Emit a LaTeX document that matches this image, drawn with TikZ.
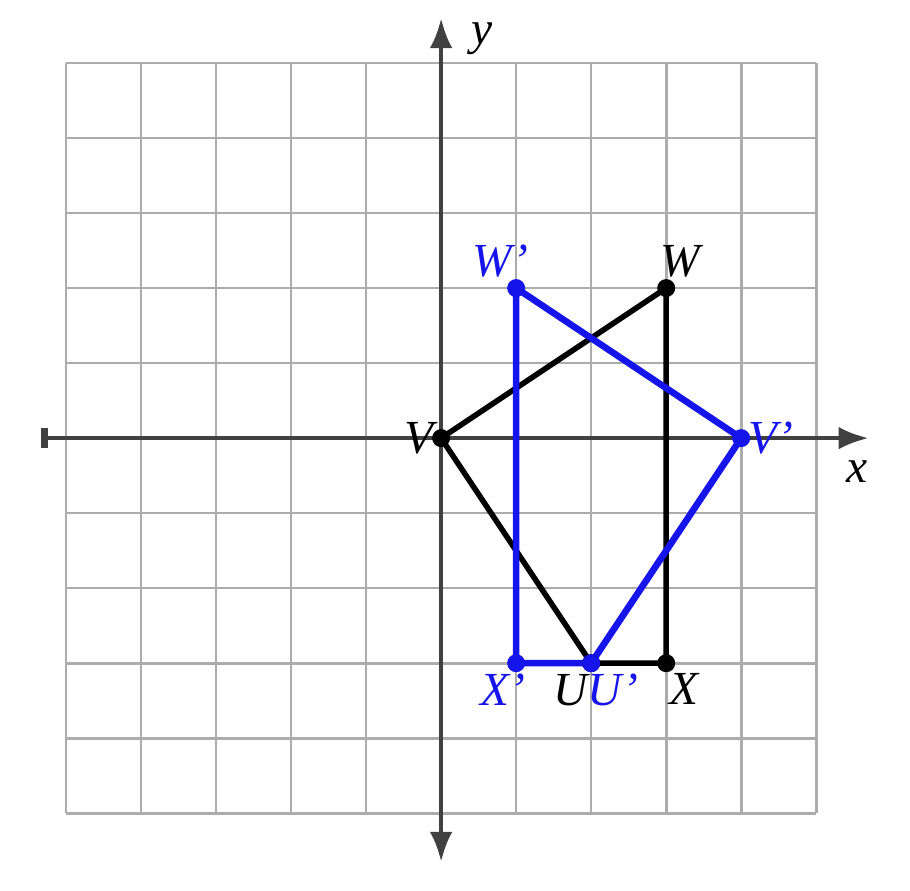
\documentclass[tikz,border=0pt]{standalone}
\usepackage{amsmath,amssymb}
\usepackage{xcolor}
\usepackage{fontspec}
\setmainfont{Liberation Serif}
\usetikzlibrary{arrows.meta,positioning,calc}
\definecolor{imgblue}{RGB}{20,20,235}
\tikzset{
    gridline/.style={draw=gray!65,line width=1pt},
    axis/.style={draw=black!75,line width=1.7pt},
    orig/.style={draw=black,line width=2.1pt},
    image/.style={draw=imgblue,line width=2.5pt},
    dot/.style={circle,fill,inner sep=0pt,minimum size=2.4mm},
    lbl/.style={font=\fontsize{18}{20}\selectfont\itshape,inner sep=1pt}
}
\begin{document}
\begin{tikzpicture}[x=1cm,y=1cm]
    \useasboundingbox (-5.88,-6.03) rectangle (6.25,5.84);
    % grid
    \draw[gridline] (-5,-5) grid (5,5);
    % axes
    \coordinate (xl) at (-5.33,0);
    \coordinate (xr) at (5.7,0);
    \coordinate (yb) at (0,-5.65);
    \coordinate (yt) at (0,5.6);
    \draw[axis,{Bar[width=2.6mm,line width=2.5pt]}-{Latex[length=4mm,width=3mm]}] (xl) -- (xr);
    \draw[axis,{Latex[length=4mm,width=3mm]}-{Latex[length=4mm,width=3mm]}] (yb) -- (yt);
    \node[lbl] (xlab) at (5.55,-0.45) {x};
    \node[lbl] (ylab) at (0.55,5.33) {y};

    % original figure
    \coordinate (V) at (0,0);
    \coordinate (W) at (3,2);
    \coordinate (X) at (3,-3);
    \coordinate (U) at (2,-3);
    % image figure
    \coordinate (V') at (4,0);
    \coordinate (W') at (1,2);
    \coordinate (X') at (1,-3);
    \coordinate (U') at (2,-3);

    \draw[orig,line join=round] (V) -- (W) -- (X) -- (U) -- cycle;
    \draw[image,line join=round] (W') -- (V') -- (U') -- (X') -- cycle;

    \foreach \p in {V,W,X,U} \node[dot,black] at (\p) {};
    \foreach \p in {V',W',X',U'} \node[dot,imgblue] at (\p) {};

    \node[lbl,left=0.6mm of V] (Vlab) {V};
    \node[lbl,above right=1mm and -1.2mm of W] (Wlab) {W};
    \node[lbl,below right=1mm and 0mm of X] (Xlab) {X};
    \node[lbl,text=imgblue,right=0.5mm of V'] (V'lab) {V'};
    \node[lbl,text=imgblue,above left=1mm and -2mm of W'] (W'lab) {W'};
    \node[lbl,text=imgblue,below left=1mm and -1.6mm of X'] (X'lab) {X'};
    \node[lbl,below=1mm of U,xshift=0.6mm] (Ulab) {U\textcolor{imgblue}{U'}};
\end{tikzpicture}
\end{document}
